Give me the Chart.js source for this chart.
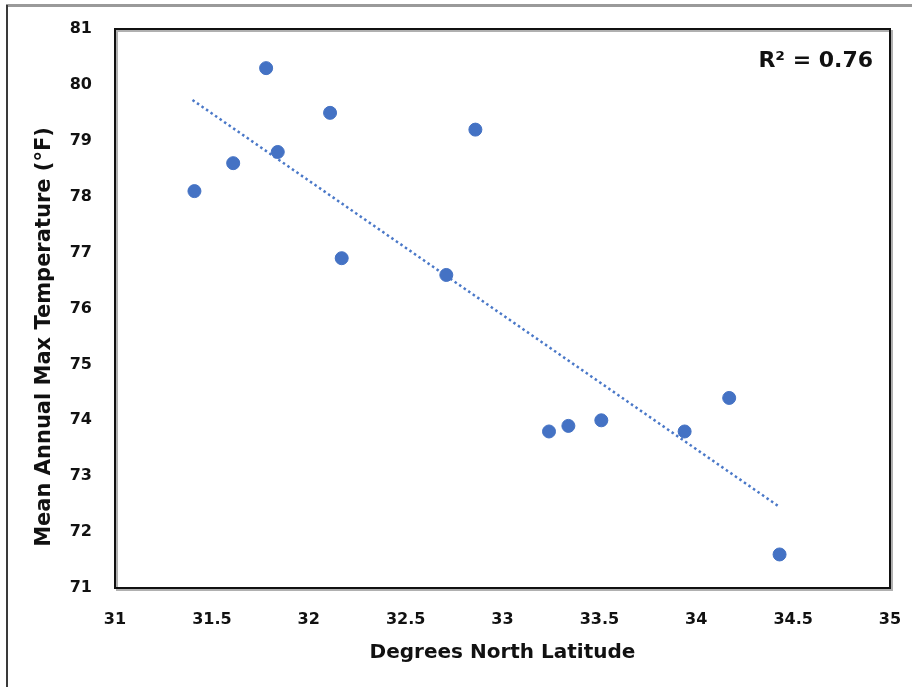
<!DOCTYPE html>
<html>
<head>
<meta charset="utf-8">
<script src="https://cdn.jsdelivr.net/npm/chart.js@4.4.1/dist/chart.umd.min.js"></script>
<style>
  html, body { margin: 0; padding: 0; background: #ffffff; }
  #wrap { width: 912px; height: 687px; position: relative; }
</style>
</head>
<body>
<div id="wrap"><canvas id="c" width="912" height="687"></canvas></div>
<script>
// ---- Data ----
const latitudes = [31.41, 31.61, 31.78, 31.84, 32.11, 32.17, 32.71, 32.86, 33.24, 33.34, 33.51, 33.94, 34.17, 34.43];
const maxTemps  = [78.1, 78.6, 80.3, 78.8, 79.5, 76.9, 76.6, 79.2, 73.8, 73.9, 74.0, 73.8, 74.4, 71.6];
const trendLat  = [31.40, 34.43];
const trendTemp = [79.73, 72.45];
const xTickValues = [31, 31.5, 32, 32.5, 33, 33.5, 34, 34.5, 35];
const yTickValues = [71, 72, 73, 74, 75, 76, 77, 78, 79, 80, 81];
const xTitle = 'Degrees North Latitude';
const yTitle = 'Mean Annual Max Temperature (\u00B0F)';
const rSquaredLabel = 'R\u00B2 = 0.76';

const FONT = '"DejaVu Sans", "Liberation Sans", Arial, sans-serif';

const decor = {
  id: 'decor',
  beforeDraw(chart) {
    const ctx = chart.ctx;
    ctx.save();
    ctx.fillStyle = '#ffffff';
    ctx.fillRect(0, 0, chart.width, chart.height);
    ctx.strokeStyle = '#9a9a9a';
    ctx.lineWidth = 3;
    ctx.beginPath();
    ctx.moveTo(6, 5.5);
    ctx.lineTo(chart.width, 5.5);
    ctx.stroke();
    ctx.strokeStyle = '#3a3a3a';
    ctx.lineWidth = 2;
    ctx.beginPath();
    ctx.moveTo(7, 5);
    ctx.lineTo(7, chart.height);
    ctx.stroke();
    ctx.restore();
  },
  afterDraw(chart) {
    const ctx = chart.ctx;
    const a = chart.chartArea;
    ctx.save();
    ctx.strokeStyle = '#b0b0b0';
    ctx.lineWidth = 2;
    ctx.strokeRect(a.left + 2, a.top + 2, a.right - a.left, a.bottom - a.top);
    ctx.strokeStyle = '#111111';
    ctx.lineWidth = 2;
    ctx.strokeRect(a.left, a.top, a.right - a.left, a.bottom - a.top);
    ctx.fillStyle = '#111111';
    ctx.font = 'bold 22px ' + FONT;
    ctx.textAlign = 'right';
    ctx.textBaseline = 'middle';
    ctx.fillText(rSquaredLabel, 873, 61);
    ctx.font = 'bold 20px ' + FONT;
    ctx.textAlign = 'center';
    ctx.fillText(xTitle, (a.left + a.right) / 2, 653);
    ctx.translate(45, 337);
    ctx.rotate(-Math.PI / 2);
    ctx.font = 'bold 21px ' + FONT;
    ctx.fillText(yTitle, 0, 0);
    ctx.restore();
  }
};

const points = latitudes.map((x, i) => ({ x: x, y: maxTemps[i] }));
const trend = trendLat.map((x, i) => ({ x: x, y: trendTemp[i] }));

new Chart(document.getElementById('c'), {
  type: 'scatter',
  data: {
    datasets: [
      {
        type: 'line',
        data: trend,
        borderColor: '#4a78c8',
        borderWidth: 2.5,
        borderDash: [2.5, 3],
        pointRadius: 0,
        fill: false,
        order: 2
      },
      {
        data: points,
        backgroundColor: '#4472c4',
        borderColor: '#4472c4',
        pointRadius: 6.5,
        pointHoverRadius: 6.5,
        order: 1
      }
    ]
  },
  plugins: [decor],
  options: {
    responsive: false,
    animation: false,
    devicePixelRatio: 1,
    layout: { autoPadding: false, padding: { left: 0, right: 22, top: 29, bottom: 0 } },
    plugins: {
      legend: { display: false },
      tooltip: { enabled: false }
    },
    scales: {
      x: {
        type: 'linear',
        min: 31,
        max: 35,
        afterBuildTicks(scale) { scale.ticks = xTickValues.map(v => ({ value: v })); },
        afterFit(scale) { scale.height = 99; scale.paddingLeft = 0; scale.paddingRight = 0; },
        grid: { display: false, drawTicks: false },
        border: { display: false },
        ticks: {
          color: '#111111',
          font: { family: FONT, size: 16, weight: 'bold' },
          padding: 22,
          maxRotation: 0,
          autoSkip: false,
          callback: (v) => String(v)
        }
      },
      y: {
        type: 'linear',
        min: 71,
        max: 81,
        afterBuildTicks(scale) { scale.ticks = yTickValues.map(v => ({ value: v })); },
        afterFit(scale) { scale.width = 115; scale.paddingTop = 0; scale.paddingBottom = 0; },
        grid: { display: false, drawTicks: false },
        border: { display: false },
        ticks: {
          color: '#111111',
          font: { family: FONT, size: 16, weight: 'bold' },
          padding: 23,
          autoSkip: false,
          callback: (v) => String(v)
        }
      }
    }
  }
});
</script>
</body>
</html>
